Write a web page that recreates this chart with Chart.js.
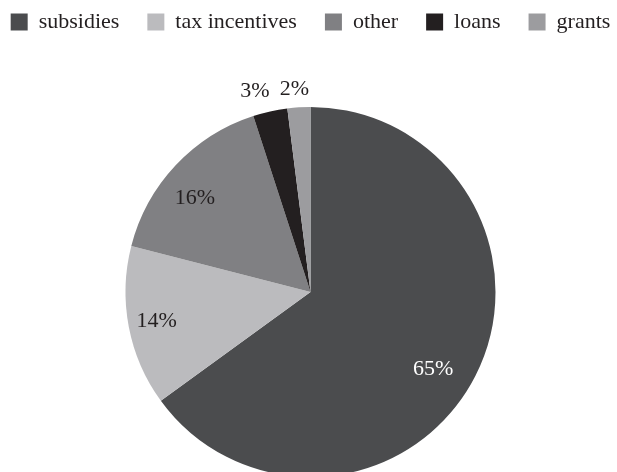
<!DOCTYPE html>
<html>
<head>
<meta charset="utf-8">
<script src="https://cdn.jsdelivr.net/npm/chart.js@4"></script>
<style>
  html, body { margin: 0; padding: 0; background: #fff; overflow: hidden; }
  body { width: 617px; height: 472px; position: relative; }
  #wrap { position: absolute; left: -20px; top: -17px; width: 661px; height: 558px; }
</style>
</head>
<body>
<div id="wrap"><canvas id="fundingPie"></canvas></div>
<script>
// data
const categories = ["subsidies", "tax incentives", "other", "loans", "grants"];
const shares = [65, 14, 16, 3, 2];
const percentLabels = ["65%", "14%", "16%", "3%", "2%"];

const sliceColors = ["#4b4c4e", "#bbbbbe", "#808083", "#231f20", "#9c9c9f"];
const labelColors = ["#ffffff", "#231f20", "#231f20", "#231f20", "#231f20"];
// where each % label sits: fraction of the radius, and nudge off the mid angle (deg)
const labelRadius = [0.78, 0.846, 0.807, 1.129, 1.104];
const labelShift = [4.8, 0.3, -3.9, -2.8, -0.9];

const serif = "'Liberation Serif', 'DejaVu Serif', serif";

const pctLabels = {
  id: "pctLabels",
  afterDatasetsDraw(chart) {
    const c = chart.ctx;
    const arcs = chart.getDatasetMeta(0).data;
    c.save();
    c.font = "22px " + serif;
    c.textAlign = "center";
    c.textBaseline = "middle";
    arcs.forEach((arc, i) => {
      const mid = (arc.startAngle + arc.endAngle) / 2 + labelShift[i] * Math.PI / 180;
      const r = arc.outerRadius * labelRadius[i];
      c.fillStyle = labelColors[i];
      c.fillText(percentLabels[i], arc.x + Math.cos(mid) * r, arc.y + Math.sin(mid) * r + 1);
    });
    c.restore();
  }
};

const ctx = document.getElementById("fundingPie").getContext("2d");
const fundingPie = new Chart(ctx, {
  type: "pie",
  data: {
    labels: categories,
    datasets: [{
      data: shares,
      backgroundColor: sliceColors,
      borderWidth: 0,
      radius: 185
    }]
  },
  options: {
    responsive: true,
    maintainAspectRatio: false,
    animation: false,
    layout: { padding: 0 },
    plugins: {
      legend: {
        position: "top",
        labels: {
          boxWidth: 17,
          boxHeight: 17,
          padding: 28,
          color: "#231f20",
          font: { family: serif, size: 22 }
        }
      },
      tooltip: { enabled: false }
    }
  },
  plugins: [pctLabels]
});
</script>
</body>
</html>
